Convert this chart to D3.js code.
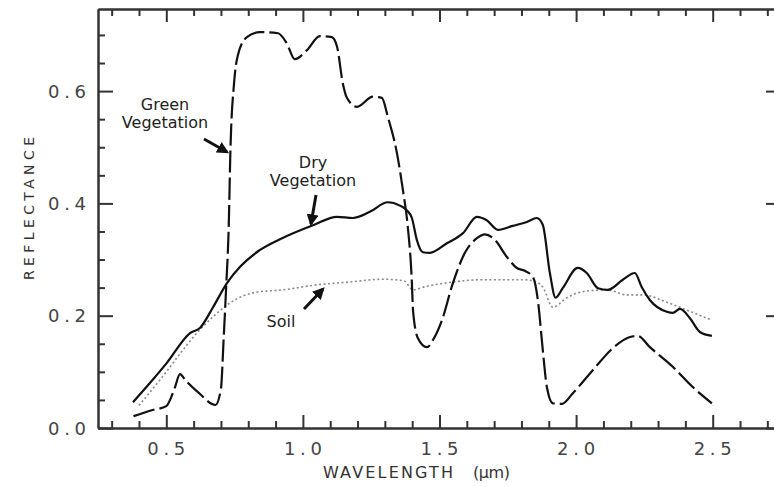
<!DOCTYPE html>
<html><head><meta charset="utf-8">
<script src="https://cdn.jsdelivr.net/npm/d3@7"></script>
<style>
html,body{margin:0;padding:0;background:#fff;}
svg{display:block;}
text{font-family:"DejaVu Sans","Liberation Sans",sans-serif;}
</style></head>
<body>
<svg id="chart" width="774" height="487"></svg>
<script>
// wavelength (µm) , reflectance
const greenWl = [0.38,0.45,0.50,0.53,0.55,0.57,0.62,0.68,0.70,0.71,0.72,0.728,0.735,0.748,0.762,0.795,0.843,0.909,0.94,0.97,1.015,1.062,1.106,1.125,1.146,1.161,1.198,1.256,1.289,1.311,1.344,1.366,1.384,1.399,1.403,1.421,1.454,1.48,1.509,1.549,1.593,1.637,1.666,1.703,1.746,1.783,1.812,1.842,1.86,1.878,1.893,1.915,1.948,1.988,2.061,2.134,2.197,2.226,2.27,2.354,2.427,2.497];
const greenRefl = [0.021,0.032,0.039,0.07,0.096,0.085,0.062,0.041,0.07,0.16,0.26,0.35,0.5,0.614,0.664,0.696,0.705,0.703,0.686,0.657,0.673,0.698,0.696,0.679,0.614,0.588,0.572,0.59,0.588,0.554,0.49,0.424,0.358,0.258,0.21,0.16,0.144,0.16,0.192,0.258,0.312,0.338,0.345,0.335,0.305,0.285,0.28,0.269,0.228,0.139,0.073,0.044,0.043,0.062,0.103,0.142,0.162,0.164,0.144,0.109,0.073,0.044];

const dryWl = [0.378,0.44,0.502,0.587,0.623,0.671,0.722,0.77,0.831,0.916,1.037,1.125,1.183,1.245,1.311,1.355,1.38,1.399,1.417,1.439,1.465,1.527,1.586,1.637,1.673,1.714,1.768,1.82,1.856,1.878,1.904,1.925,1.951,2.006,2.039,2.08,2.116,2.171,2.215,2.24,2.27,2.332,2.354,2.38,2.416,2.453,2.497];
const dryRefl = [0.046,0.08,0.116,0.169,0.178,0.215,0.258,0.287,0.313,0.336,0.361,0.376,0.374,0.385,0.402,0.396,0.388,0.374,0.335,0.313,0.312,0.329,0.347,0.376,0.37,0.353,0.36,0.367,0.374,0.362,0.276,0.232,0.249,0.285,0.276,0.249,0.246,0.264,0.276,0.251,0.228,0.207,0.205,0.212,0.196,0.171,0.164];

const soilWl = [0.40,0.5,0.561,0.623,0.671,0.722,0.77,0.831,0.927,1.051,1.172,1.293,1.37,1.403,1.45,1.549,1.65,1.812,1.856,1.878,1.915,1.966,2.039,2.112,2.186,2.244,2.332,2.405,2.497];
const soilRefl = [0.04,0.1,0.139,0.175,0.198,0.219,0.233,0.242,0.246,0.255,0.26,0.265,0.262,0.246,0.252,0.26,0.264,0.264,0.26,0.251,0.215,0.232,0.244,0.246,0.237,0.237,0.224,0.21,0.192];

const xMajor = [0.5,1.0,1.5,2.0,2.5];
const xMajorLabels = ["0.5","1.0","1.5","2.0","2.5"];
const xMinor = [0.3,0.4,0.6,0.7,0.8,0.9,1.1,1.2,1.3,1.4,1.6,1.7,1.8,1.9,2.1,2.2,2.3,2.4,2.6,2.7];
const yMajor = [0.0,0.2,0.4,0.6];
const yMajorLabels = ["0.0","0.2","0.4","0.6"];
const yMinor = [0.05,0.1,0.15,0.25,0.3,0.35,0.45,0.5,0.55,0.65,0.7];

const svg = d3.select("#chart");
const L = 98, R = 781, T = 9, B = 428;
const x = d3.scaleLinear().domain([0.25, 2.75]).range([L, R]);
const y = d3.scaleLinear().domain([0, 0.7462]).range([B, T]);

const axisColor = "#333";
function styleAxis(g){ g.select(".domain").attr("stroke",axisColor).attr("stroke-width",2); g.selectAll(".tick line").attr("stroke",axisColor).attr("stroke-width",2); g.selectAll("text").remove(); }

// bottom
svg.append("g").attr("transform",`translate(0,${B})`).call(d3.axisBottom(x).tickValues(xMajor).tickSizeInner(-13).tickSizeOuter(0)).call(styleAxis);
svg.append("g").attr("transform",`translate(0,${B})`).call(d3.axisBottom(x).tickValues(xMinor).tickSizeInner(-7).tickSizeOuter(0)).call(styleAxis);
// top
svg.append("g").attr("transform",`translate(0,${T})`).call(d3.axisTop(x).tickValues(xMajor).tickSizeInner(-13).tickSizeOuter(0)).call(styleAxis);
svg.append("g").attr("transform",`translate(0,${T})`).call(d3.axisTop(x).tickValues(xMinor).tickSizeInner(-7).tickSizeOuter(0)).call(styleAxis);
// left
svg.append("g").attr("transform",`translate(${L},0)`).call(d3.axisLeft(y).tickValues(yMajor).tickSizeInner(-15).tickSizeOuter(0)).call(styleAxis);
svg.append("g").attr("transform",`translate(${L},0)`).call(d3.axisLeft(y).tickValues(yMinor).tickSizeInner(-7).tickSizeOuter(0)).call(styleAxis);
// right
svg.append("g").attr("transform",`translate(${R},0)`).call(d3.axisRight(y).tickValues(yMajor).tickSizeInner(-15).tickSizeOuter(0)).call(styleAxis);
svg.append("g").attr("transform",`translate(${R},0)`).call(d3.axisRight(y).tickValues(yMinor).tickSizeInner(-7).tickSizeOuter(0)).call(styleAxis);

// tick labels
svg.append("g").selectAll("text").data(yMajor).join("text")
  .attr("x",67).attr("y",d=>y(d)+6.5).attr("text-anchor","middle")
  .attr("font-size",18).attr("fill","#444")
  .attr("textLength",38).attr("lengthAdjust","spacing")
  .text((d,i)=>yMajorLabels[i]);
svg.append("g").selectAll("text").data(xMajor).join("text")
  .attr("x",d=>x(d)).attr("y",455).attr("text-anchor","middle")
  .attr("font-size",18).attr("fill","#444")
  .attr("textLength",38).attr("lengthAdjust","spacing")
  .text((d,i)=>xMajorLabels[i]);

// axis titles
svg.append("text").attr("x",323).attr("y",478).attr("font-size",16).attr("fill","#333")
  .attr("textLength",130).attr("lengthAdjust","spacing").text("WAVELENGTH");
svg.append("text").attr("x",473).attr("y",478).attr("font-size",16).attr("fill","#333")
  .attr("textLength",37).attr("lengthAdjust","spacing").text("(µm)");
svg.append("text").attr("transform","translate(34,280) rotate(-90)").attr("font-size",14).attr("fill","#333")
  .attr("textLength",143).attr("lengthAdjust","spacing").text("REFLECTANCE");

// curves
const line = d3.line().x(d=>x(d[0])).y(d=>y(d[1])).curve(d3.curveMonotoneX);
const zip = (a,b)=>a.map((v,i)=>[v,b[i]]);
svg.append("path").datum(zip(soilWl,soilRefl)).attr("d",line)
  .attr("fill","none").attr("stroke","#888").attr("stroke-width",1.6).attr("stroke-dasharray","2,2.5");
svg.append("path").datum(zip(dryWl,dryRefl)).attr("d",line)
  .attr("fill","none").attr("stroke","#111").attr("stroke-width",2.2).attr("stroke-linejoin","round");
svg.append("path").datum(zip(greenWl,greenRefl)).attr("d",line)
  .attr("fill","none").attr("stroke","#111").attr("stroke-width",2.2).attr("stroke-dasharray","22,5");

// annotations
function ann(lines, cx, cy){
  lines.forEach((t,i)=>svg.append("text").attr("x",cx).attr("y",cy+i*18).attr("text-anchor","middle")
    .attr("font-family","Liberation Sans, Arial, sans-serif").attr("font-size",16).attr("fill","#222").text(t));
}
ann(["Green","Vegetation"],165,110);
ann(["Dry","Vegetation"],313,168);
ann(["Soil"],281,327);

svg.append("defs").append("marker").attr("id","ah").attr("viewBox","0 0 10 10").attr("refX",8).attr("refY",5)
  .attr("markerWidth",4).attr("markerHeight",4).attr("orient","auto")
  .append("path").attr("d","M0,0L10,5L0,10z").attr("fill","#111");
function arrow(x1,y1,x2,y2){
  svg.append("line").attr("x1",x1).attr("y1",y1).attr("x2",x2).attr("y2",y2)
    .attr("stroke","#111").attr("stroke-width",3).attr("marker-end","url(#ah)");
}
arrow(204,139,227,152);
arrow(316,195,311,224);
arrow(304,309,323,289);
</script>
</body></html>
